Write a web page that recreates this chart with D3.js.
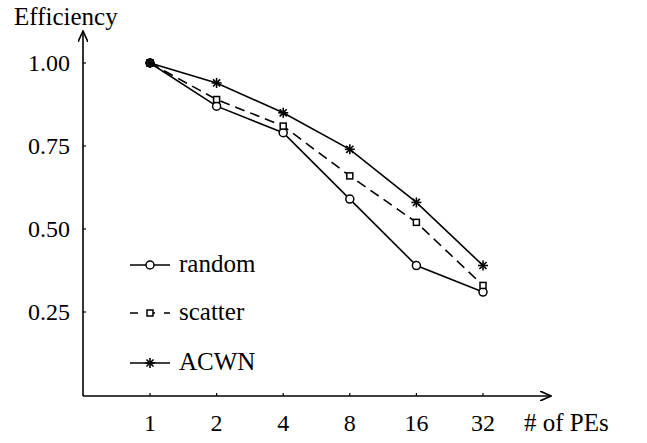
<!DOCTYPE html>
<html>
<head>
<meta charset="utf-8">
<script src="https://cdn.jsdelivr.net/npm/d3@7"></script>
<style>
  svg text { font-family: "Liberation Serif", serif; }
</style>
</head>
<body style="margin:0">
<svg id="fig" width="647" height="443" font-family="Liberation Serif"></svg>
<script>
// data
const peCounts = ["1", "2", "4", "8", "16", "32"];
const yTicks = [0.25, 0.50, 0.75, 1.00];
const randomEff = [1.00, 0.87, 0.79, 0.59, 0.39, 0.31];
const scatterEff = [1.00, 0.89, 0.81, 0.66, 0.52, 0.33];
const acwnEff = [1.00, 0.94, 0.85, 0.74, 0.58, 0.39];

const series = [
  { name: "random", values: randomEff, marker: "circle", dash: null },
  { name: "scatter", values: scatterEff, marker: "square", dash: "10,6" },
  { name: "ACWN", values: acwnEff, marker: "star", dash: null }
];

const FONT = "Liberation Serif";

const svg = d3.select("#fig");

const axisX = 83, axisY = 396;   // where the axes meet

const x = d3.scalePoint()
  .domain(peCounts)
  .range([150, 483]);

const y = d3.scaleLinear()
  .domain([0, 1])
  .range([395, 63]);

// arrow head
svg.append("defs").append("marker")
  .attr("id", "arrow")
  .attr("viewBox", "0 0 12 10")
  .attr("refX", 11).attr("refY", 5)
  .attr("markerWidth", 12).attr("markerHeight", 10)
  .attr("markerUnits", "userSpaceOnUse")
  .attr("orient", "auto")
  .append("path")
  .attr("d", "M0,0 L11,5 L0,10")
  .attr("fill", "none")
  .attr("stroke", "#000")
  .attr("stroke-width", 1.6);

// axes
svg.append("line")
  .attr("x1", axisX).attr("y1", axisY)
  .attr("x2", 551).attr("y2", axisY)
  .attr("stroke", "#000").attr("stroke-width", 1.6)
  .attr("marker-end", "url(#arrow)");

svg.append("line")
  .attr("x1", axisX).attr("y1", axisY)
  .attr("x2", axisX).attr("y2", 31)
  .attr("stroke", "#000").attr("stroke-width", 1.6)
  .attr("marker-end", "url(#arrow)");

// ticks
svg.selectAll(".xtick")
  .data(peCounts)
  .enter().append("line")
  .attr("x1", d => x(d)).attr("x2", d => x(d))
  .attr("y1", axisY).attr("y2", axisY - 3)
  .attr("stroke", "#000").attr("stroke-width", 1.2);

svg.selectAll(".xlab")
  .data(peCounts)
  .enter().append("text")
  .attr("x", d => x(d))
  .attr("y", 431)
  .attr("text-anchor", "middle")
  .attr("font-family", FONT)
  .attr("font-size", "24px")
  .text(d => d);

svg.selectAll(".ytick")
  .data(yTicks)
  .enter().append("line")
  .attr("x1", axisX).attr("x2", axisX + 3)
  .attr("y1", d => y(d)).attr("y2", d => y(d))
  .attr("stroke", "#000").attr("stroke-width", 1.2);

svg.selectAll(".ylab")
  .data(yTicks)
  .enter().append("text")
  .attr("x", 70)
  .attr("y", d => y(d) + 8)
  .attr("text-anchor", "end")
  .attr("font-family", FONT)
  .attr("font-size", "24px")
  .text(d => d.toFixed(2));

svg.append("text")
  .attr("x", 14).attr("y", 25)
  .attr("font-family", FONT)
  .attr("font-size", "25px")
  .text("Efficiency");

svg.append("text")
  .attr("x", 524).attr("y", 431)
  .attr("font-family", FONT)
  .attr("font-size", "25px")
  .text("# of PEs");

// markers
function drawMarker(g, type, cx, cy) {
  if (type === "circle") {
    g.append("circle")
      .attr("cx", cx).attr("cy", cy).attr("r", 4)
      .attr("fill", "#fff").attr("stroke", "#000").attr("stroke-width", 1.5);
  } else if (type === "square") {
    g.append("rect")
      .attr("x", cx - 3).attr("y", cy - 3)
      .attr("width", 6).attr("height", 6)
      .attr("fill", "#fff").attr("stroke", "#000").attr("stroke-width", 1.5);
  } else {
    const r = 5;
    [0, 45, 90, 135].forEach(a => {
      const rad = a * Math.PI / 180;
      g.append("line")
        .attr("x1", cx - r * Math.cos(rad)).attr("y1", cy - r * Math.sin(rad))
        .attr("x2", cx + r * Math.cos(rad)).attr("y2", cy + r * Math.sin(rad))
        .attr("stroke", "#000").attr("stroke-width", 1.6);
    });
  }
}

const line = d3.line()
  .x((d, i) => x(peCounts[i]))
  .y(d => y(d));

series.forEach(s => {
  svg.append("path")
    .attr("d", line(s.values))
    .attr("fill", "none")
    .attr("stroke", "#000")
    .attr("stroke-width", 1.6)
    .attr("stroke-dasharray", s.dash);
  const g = svg.append("g");
  s.values.forEach((v, i) => drawMarker(g, s.marker, x(peCounts[i]), y(v)));
});

// legend
const legendY = [265, 313, 363];
series.forEach((s, i) => {
  const g = svg.append("g");
  g.append("line")
    .attr("x1", 130).attr("x2", 170)
    .attr("y1", legendY[i]).attr("y2", legendY[i])
    .attr("stroke", "#000").attr("stroke-width", 1.6)
    .attr("stroke-dasharray", s.dash ? "8,9" : null);
  drawMarker(g, s.marker, 150, legendY[i]);
  g.append("text")
    .attr("x", 179).attr("y", legendY[i] + 7)
    .attr("font-family", FONT)
    .attr("font-size", "25px")
    .text(s.name);
});
</script>
</body>
</html>
